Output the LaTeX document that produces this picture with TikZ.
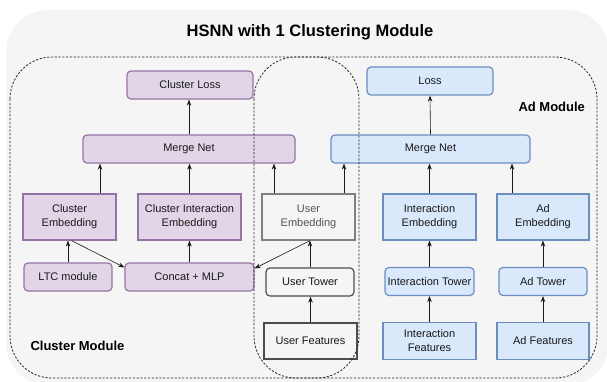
\documentclass[tikz,border=0pt]{standalone}
\usepackage{fontspec}
\setmainfont{Liberation Sans}
\usetikzlibrary{arrows.meta,calc}
\definecolor{pfill}{HTML}{E1D5E7}
\definecolor{pdraw}{HTML}{9673A6}
\definecolor{bfill}{HTML}{DAE8FC}
\definecolor{bdraw}{HTML}{6C8EBF}
\definecolor{outerfill}{HTML}{F5F5F5}
\definecolor{ugray}{HTML}{808080}
\definecolor{utext}{HTML}{555555}
\definecolor{udark}{HTML}{4D4D4D}
\definecolor{txt}{HTML}{1A1A1A}
\begin{document}
\begin{tikzpicture}[x=1pt,y=-1pt,
  box/.style={inner sep=0pt, align=center, text=txt, font=\fontsize{11}{14}\selectfont, line width=1.2pt},
  pbox/.style={box, draw=pdraw, fill=pfill},
  bbox/.style={box, draw=bdraw, fill=bfill},
  ubox/.style={box, draw=udark, fill=outerfill},
  rnd/.style={rounded corners=4pt},
  arr/.style={draw=txt, -{Stealth[length=6pt,width=4.5pt]}, line width=0.6pt},
  region/.style={draw=black!85, line width=0.8pt, dash pattern=on 2.2pt off 1.6pt, rounded corners=42pt},
  lab/.style={anchor=west, text=black, font=\bfseries\fontsize{13}{15}\selectfont}
]
\useasboundingbox (0,0) rectangle (607,381);
\fill[white] (0,0) rectangle (607,381);
\fill[outerfill, rounded corners=42pt] (6,10) rectangle (609,385);

\node[font=\bfseries\fontsize{16.5}{19}\selectfont, text=black] (title) at (310,32) {HSNN with 1 Clustering Module};

% purple boxes
\node[pbox, rnd, minimum width=126pt, minimum height=28pt] (cl) at (190,85) {Cluster Loss};
\node[pbox, rnd, minimum width=212pt, minimum height=28pt] (mnp) at (189,149) {Merge Net};
\node[pbox, minimum width=93pt, minimum height=46pt] (ce) at (69.5,217) {Cluster\\Embedding};
\node[pbox, minimum width=103pt, minimum height=46pt] (cie) at (189.5,217) {Cluster Interaction\\Embedding};
\node[pbox, rnd, minimum width=88pt, minimum height=28pt] (ltc) at (68,277) {LTC module};
\node[pbox, rnd, minimum width=129pt, minimum height=28pt] (cm) at (189.5,277) {Concat + MLP};

% user boxes
\node[box, draw=ugray, fill=outerfill, text=utext, minimum width=93pt, minimum height=46pt] (ue) at (308.5,217) {User\\Embedding};
\node[ubox, rnd, minimum width=88pt, minimum height=28pt] (ut) at (310,282) {User Tower};
\node[ubox, line width=1.5pt, minimum width=93pt, minimum height=36pt] (uf) at (310.5,341) {User Features};

% blue boxes
\node[bbox, rnd, minimum width=126pt, minimum height=28pt] (loss) at (430,81) {Loss};
\node[bbox, rnd, minimum width=199pt, minimum height=28pt] (mnb) at (430.5,149) {Merge Net};
\node[bbox, minimum width=93pt, minimum height=46pt] (ie) at (429.5,217) {Interaction\\Embedding};
\node[bbox, minimum width=92pt, minimum height=46pt] (ae) at (543,217) {Ad\\Embedding};
\node[bbox, rnd, minimum width=89pt, minimum height=28pt] (it) at (429.5,281.5) {Interaction Tower};
\node[bbox, rnd, minimum width=88pt, minimum height=28pt] (at) at (543,281.5) {Ad Tower};
\node[bbox, minimum width=93pt, minimum height=37pt] (if) at (429.5,341) {Interaction\\Features};
\node[bbox, minimum width=92pt, minimum height=37pt] (af) at (543,341) {Ad Features};

% dashed module regions
\draw[region] (10,57) rectangle (359,378);
\draw[region] (254,57) rectangle (597,378);
\node[lab] (cmlab) at (27,346) {Cluster Module};
\node[lab] (admlab) at (515,107) {Ad Module};

% arrows
\draw[arr] (mnp.north -| cl.south) ++(-1,0) coordinate (a1) -- (a1 |- cl.south);
\draw[arr] (mnb.north) -- (loss.south);
\draw[arr] ($(ce.north)+(30.5,0)$) coordinate (a2) -- (a2 |- mnp.south);
\draw[arr] (cie.north) -- (cie.north |- mnp.south);
\draw[arr] ($(ue.north)+(-34.5,0)$) coordinate (a3) -- (a3 |- mnp.south);
\draw[arr] ($(ue.north)+(35.5,0)$) coordinate (a4) -- (a4 |- mnb.south);
\draw[arr] (ie.north) -- (ie.north |- mnb.south);
\draw[arr] ($(ae.north)+(-31,0)$) coordinate (a5) -- (a5 |- mnb.south);
\draw[arr] (ltc.north) -- (ltc.north |- ce.south);
\draw[arr] ($(ce.south)+(2,0)$) -- ($(cm.north west)+(0,5)$);
\draw[arr] (cm.north) -- (cm.north |- cie.south);
\draw[arr] ($(ue.south)+(1.5,0)$) -- ($(cm.north east)+(0,6)$);
\draw[arr] (ut.north) -- (ut.north |- ue.south);
\draw[arr] (uf.north) -- (uf.north |- ut.south);
\draw[arr] (it.north) -- (ie.south);
\draw[arr] (if.north) -- (it.south);
\draw[arr] (at.north) -- (ae.south);
\draw[arr] (af.north) -- (at.south);
\end{tikzpicture}
\end{document}
